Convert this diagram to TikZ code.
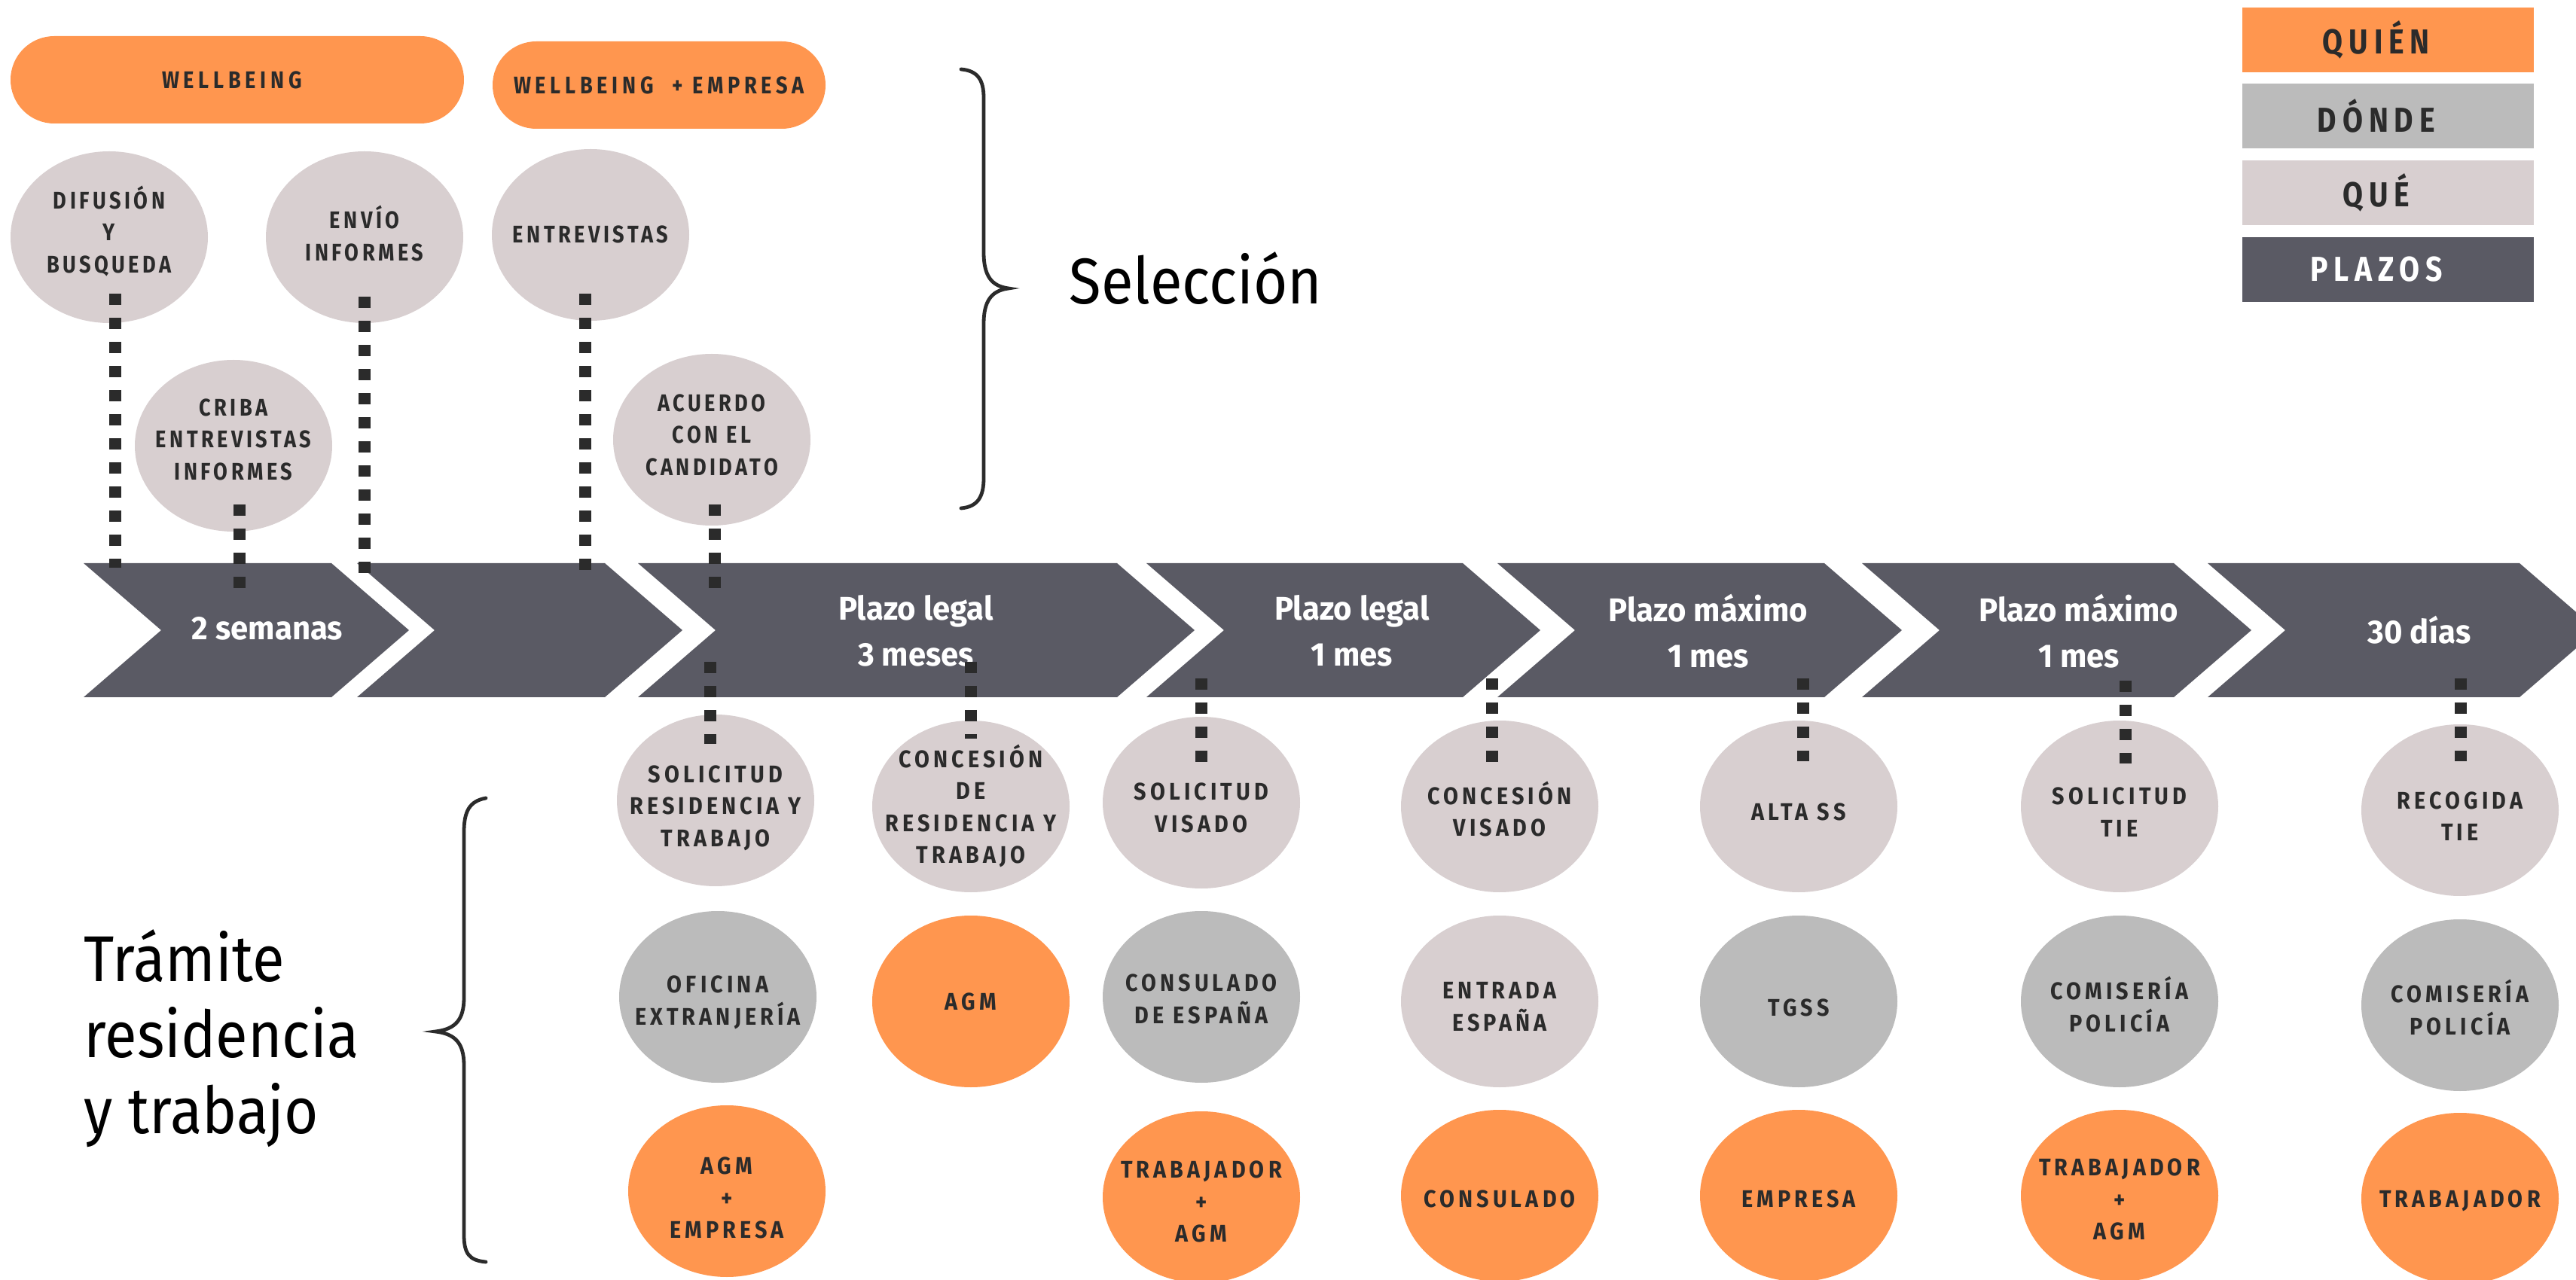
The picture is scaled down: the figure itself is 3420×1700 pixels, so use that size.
\documentclass[tikz,border=0pt]{standalone}
\usepackage{fontspec}
\setmainfont{Fira Sans}
\newfontfamily\capfont{Fira Sans}[FakeStretch=0.85,LetterSpace=14]
\newfontfamily\lowfont{Fira Sans}[FakeStretch=0.9,LetterSpace=16]
\newfontfamily\pillfont{Fira Sans}[FakeStretch=0.85,LetterSpace=18]
\newfontfamily\legfont{Fira Sans}[FakeStretch=0.85,LetterSpace=17]
\newfontfamily\chevfont{Fira Sans}[FakeStretch=0.96]
\newfontfamily\bigfont{Fira Sans}[FakeStretch=0.905]
\usetikzlibrary{shapes.geometric,calc}
\definecolor{quienC}{HTML}{FF964F}
\definecolor{dondeC}{HTML}{BBBBBB}
\definecolor{queC}{HTML}{D8CFD0}
\definecolor{chevC}{HTML}{5A5A64}
\definecolor{txt}{HTML}{2B2B2B}
\tikzset{
  tsh/.style={execute at begin node={\rule{0pt}{#1}}, execute at end node={\rule[-6pt]{0pt}{0pt}}},
  ell/.style={ellipse, minimum width=65.5pt, minimum height=57pt, inner sep=-12pt, align=center, text=txt,
    font=\lowfont\bfseries\fontsize{8pt}{10.6pt}\selectfont, tsh=11.5pt},
  top/.style={font=\capfont\bfseries\fontsize{8pt}{10.6pt}\selectfont},
  que/.style={ell, fill=queC},
  donde/.style={ell, fill=dondeC},
  quien/.style={ell, fill=quienC},
  pill/.style={rectangle, rounded corners=14.5pt, fill=quienC, minimum height=29pt, inner sep=0pt, text=txt,
    font=\pillfont\bfseries\fontsize{8pt}{10pt}\selectfont},
  legbox/.style={rectangle, minimum width=96.75pt, minimum height=21.5pt, inner sep=0pt, text=txt,
    font=\legfont\bfseries\fontsize{11.5pt}{13pt}\selectfont, execute at end node={\hspace*{7.6pt}}},
  chevtext/.style={align=center, text=white, inner sep=0pt, font=\chevfont\bfseries\fontsize{10.9pt}{15.25pt}\selectfont},
  bigtext/.style={inner sep=0pt, text=black, font=\bigfont\fontsize{21.5pt}{25.25pt}\selectfont},
  dotline/.style={draw=txt, line width=4pt, dash pattern=on 3.75pt off 4.25pt},
  bracepath/.style={draw=txt, line width=1.2pt, line cap=round},
}
\newcommand\chevron[2]{\fill[chevC] (#1,748) -- (#2,748) -- ({#2+103},837) -- (#2,926) -- (#1,926) -- ({#1+103},837) -- cycle;}
\begin{document}
\begin{tikzpicture}[x=0.25pt,y=-0.25pt]
\useasboundingbox (0,0) rectangle (3420,1700);
\fill[white] (0,0) rectangle (3420,1700);

% pills
\node[pill, minimum width=150.5pt] (wb1) at (315,106) {WELLBEING\hspace*{3.5pt}};
\node[pill, minimum width=110.5pt] (wb2) at (875,113) {WELLBEING \ + EMPRESA};

% legend
\node[legbox, fill=quienC] (lq) at (3170,53) {QUIÉN};
\node[legbox, fill=dondeC] (ld) at (3170,154) {DÓNDE};
\node[legbox, fill=queC] (lqe) at (3170,256) {QUÉ};
\node[legbox, fill=chevC, text=white] (lp) at (3170,358) {PLAZOS};

% selection ellipses
\node[que, top, tsh=29.7pt] (dif) at (145,315) {DIFUSIÓN\\Y\\BUSQUEDA};
\node[que, top, tsh=21.6pt] (envio) at (484,315) {ENVÍO\\INFORMES};
\node[que, top, tsh=11.5pt] (entre) at (784,312) {ENTREVISTAS};
\node[que, top, tsh=28.7pt] (criba) at (310,592) {CRIBA\\ENTREVISTAS\\INFORMES};
\node[que, top, tsh=29.7pt] (acuerdo) at (945,584) {ACUERDO\\CON EL\\CANDIDATO};

% row 1
\node[que, tsh=36.7pt] (solres) at (950,1063) {SOLICITUD\\RESIDENCIA Y\\TRABAJO};
\node[que, tsh=43.8pt] (conres) at (1289,1071) {CONCESIÓN\\DE\\RESIDENCIA Y\\TRABAJO};
\node[que, tsh=25.6pt] (solvis) at (1595,1066) {SOLICITUD\\VISADO};
\node[que, tsh=25.9pt] (convis) at (1991,1071) {CONCESIÓN\\VISADO};
\node[que, tsh=15.5pt] (alta) at (2388,1071) {ALTA SS};
\node[que, tsh=26.1pt] (soltie) at (2814,1071) {SOLICITUD\\TIE};
\node[que, tsh=26.3pt] (recog) at (3266,1076) {RECOGIDA\\TIE};
% row 2
\node[donde, tsh=24.6pt] (ofi) at (953,1324) {OFICINA\\EXTRANJERÍA};
\node[quien, tsh=10.5pt] (agm) at (1289,1330) {AGM};
\node[donde, tsh=23.6pt] (consesp) at (1595,1324) {CONSULADO\\DE ESPAÑA};
\node[que, tsh=25.6pt] (entrada) at (1991,1330) {ENTRADA\\ESPAÑA};
\node[donde, tsh=15.5pt] (tgss) at (2388,1330) {TGSS};
\node[donde, tsh=26.1pt] (com1) at (2814,1330) {COMISERÍA\\POLICÍA};
\node[donde, tsh=25.6pt] (com2) at (3266,1335) {COMISERÍA\\POLICÍA};
% row 3
\node[quien, tsh=37.2pt] (agmemp) at (965,1582) {AGM\\+\\EMPRESA};
\node[quien, tsh=35.7pt] (trab1) at (1595,1590) {TRABAJADOR\\+\\AGM};
\node[quien, tsh=13.5pt] (consul) at (1991,1588) {CONSULADO};
\node[quien, tsh=13.5pt] (empresa) at (2388,1588) {EMPRESA};
\node[quien, tsh=35.2pt] (trab2) at (2814,1588) {TRABAJADOR\\+\\AGM};
\node[quien, tsh=11.5pt] (trab3) at (3266,1592) {TRABAJADOR};

% chevrons
\chevron{111}{440}
\chevron{474}{803}
\chevron{847}{1483}
\chevron{1522}{1942}
\chevron{1988}{2422}
\chevron{2472}{2886}
\chevron{2931}{3345}

\node[chevtext] (c1) at (355,835) {2 semanas};
\node[chevtext] (c3) at (1216,838) {Plazo legal\\3 meses};
\node[chevtext] (c4) at (1795,838) {Plazo legal\\1 mes};
\node[chevtext] (c5) at (2268,838) {Plazo máximo\\1 mes};
\node[chevtext] (c6) at (2760,838) {Plazo máximo\\1 mes};
\node[chevtext] (c7) at (3212,837) {30 días};

% free ends on the chevrons
\coordinate (t1) at (153,754);
\coordinate (t2) at (318,782);
\coordinate (t3) at (484,761);
\coordinate (t4) at (777,757);
\coordinate (t5) at (949,782);
\coordinate (b1) at (943,879);
\coordinate (b2) at (1289,879);
\coordinate (b3) at (1595,901);
\coordinate (b4) at (1981,901);
\coordinate (b5) at (2394,901);
\coordinate (b6) at (2822,904);
\coordinate (b7) at (3267,901);

% dotted connectors
\draw[dotline] ($(dif.center)+(8,75)$) -- (t1);
\draw[dotline] ($(criba.center)+(8,78)$) -- (t2);
\draw[dotline] ($(envio.center)+(0,79)$) -- (t3);
\draw[dotline] ($(entre.center)+(-7,78)$) -- (t4);
\draw[dotline] ($(acuerdo.center)+(4,86)$) -- (t5);
\draw[dotline] (b1) -- ($(solres.center)+(-7,-75)$);
\draw[dotline] (b2) -- ($(conres.center)+(0,-90)$);
\draw[dotline] (b3) -- ($(solvis.center)+(0,-54)$);
\draw[dotline] (b4) -- ($(convis.center)+(-10,-59)$);
\draw[dotline] (b5) -- ($(alta.center)+(6,-60)$);
\draw[dotline] (b6) -- ($(soltie.center)+(8,-57)$);
\draw[dotline] (b7) -- ($(recog.center)+(1,-65)$);

% braces and titles
\draw[bracepath] (1276,92) .. controls (1298,94) and (1306,106) .. (1306,130) -- (1306,335)
  .. controls (1306,366) and (1316,380) .. (1339,383) .. controls (1316,386) and (1306,400) .. (1306,430)
  -- (1306,635) .. controls (1306,660) and (1298,673) .. (1276,675);
\node[bigtext, anchor=base west] (sel) at (1419,404) {Selección};

\draw[bracepath] (645,1060) .. controls (623,1064) and (616,1078) .. (616,1105) -- (616,1325)
  .. controls (616,1355) and (604,1367) .. (578,1370) .. controls (604,1373) and (616,1385) .. (616,1415)
  -- (616,1640) .. controls (616,1665) and (623,1674) .. (645,1676);
\node[bigtext, anchor=base west, align=left] (tram) at (111,1505) {Trámite\\residencia\\y trabajo};
\end{tikzpicture}
\end{document}
